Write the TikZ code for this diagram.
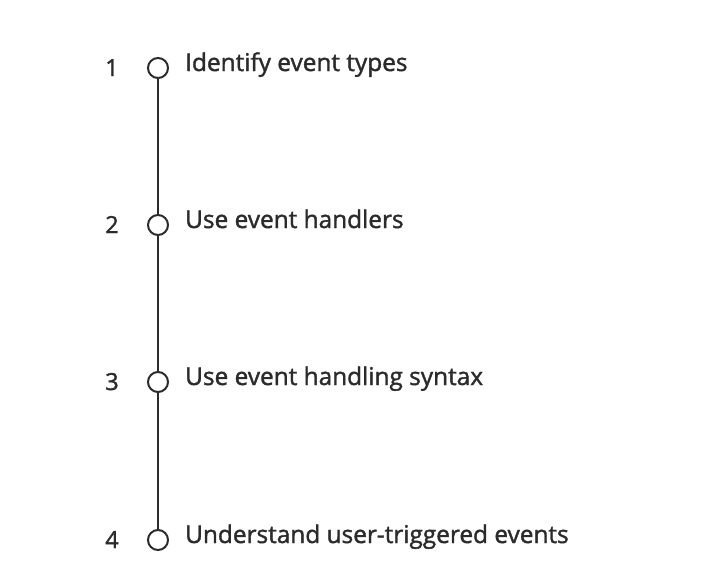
\documentclass[tikz,border=0pt]{standalone}
\usepackage{fontspec}
\setmainfont{Open Sans}
\newfontfamily\medfont{Open Sans}[FakeBold=1.5]
\definecolor{ink}{HTML}{2B2B2B}
\begin{document}
\begin{tikzpicture}[x=1pt,y=-1pt,
  dot/.style={circle,draw=ink,line width=2pt,fill=white,minimum size=20pt,inner sep=0pt},
  num/.style={anchor=base,text=ink,font=\medfont\fontsize{23.5}{26}\selectfont,inner sep=0pt},
  lbl/.style={anchor=base west,text=ink,font=\medfont\fontsize{24.4}{28}\selectfont,inner sep=0pt},
  link/.style={draw=ink,line width=2pt}]
\useasboundingbox[fill=white] (0,0) rectangle (716,571);
\foreach \i/\y/\t in {1/68/Identify event types,2/225/Use event handlers,3/382/Use event handling syntax,4/540/Understand user-triggered events}{
  \node[num] (n\i) at (112,\y+8) {\i};
  \node[lbl] (t\i) at (185,\y+3) {\t};
}
\draw[link] (158,68) -- (158,540);
\foreach \i/\y in {1/68,2/225,3/382,4/540}{
  \node[dot] (c\i) at (158,\y) {};
}
\end{tikzpicture}
\end{document}
